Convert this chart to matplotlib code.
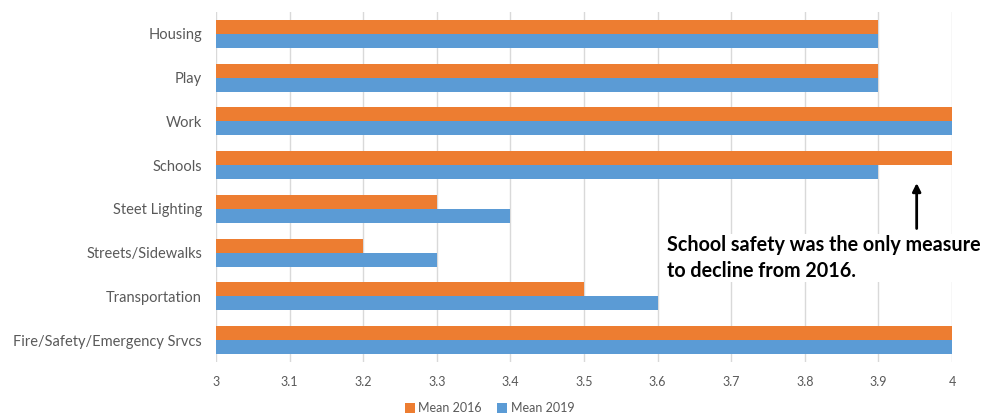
import matplotlib.pyplot as plt
import numpy as np

# Safety perception survey - mean scores by area
categories = ["Housing", "Play", "Work", "Schools", "Steet Lighting",
              "Streets/Sidewalks", "Transportation", "Fire/Safety/Emergency Srvcs"]
mean_2016 = [3.9, 3.9, 4.0, 4.0, 3.3, 3.2, 3.5, 4.0]
mean_2019 = [3.9, 3.9, 4.0, 3.9, 3.4, 3.3, 3.6, 4.0]
x_ticks = [3, 3.1, 3.2, 3.3, 3.4, 3.5, 3.6, 3.7, 3.8, 3.9, 4]
x_tick_labels = ["3", "3.1", "3.2", "3.3", "3.4", "3.5", "3.6", "3.7", "3.8", "3.9", "4"]

plt.rcParams["font.family"] = ["Lato", "DejaVu Sans"]

ORANGE = "#ED7D31"
BLUE = "#5B9BD5"
GREY = "#595959"

fig = plt.figure(figsize=(9.85, 4.15), dpi=100)
ax = fig.add_axes([0.2193, 0.128, 0.7472, 0.843])

y = np.arange(len(categories))
h = 0.32

ax.barh(y - h / 2, np.array(mean_2016) - 3, height=h, left=3, color=ORANGE,
        label="Mean 2016", zorder=3)
ax.barh(y + h / 2, np.array(mean_2019) - 3, height=h, left=3, color=BLUE,
        label="Mean 2019", zorder=3)

ax.set_xlim(3, 4)
ax.set_ylim(len(categories) - 0.5, -0.5)
ax.set_xticks(x_ticks)
ax.set_xticklabels(x_tick_labels, color=GREY, fontsize=9)
ax.set_yticks(y)
ax.set_yticklabels(categories, color=GREY, fontsize=10.5)
ax.tick_params(axis="both", length=0)
ax.tick_params(axis="x", pad=10)
ax.tick_params(axis="y", pad=10)
ax.xaxis.grid(True, color="#D9D9D9", linewidth=1, zorder=0)
for s in ax.spines.values():
    s.set_visible(False)

# callout for the schools decline
ax.annotate("", xy=(3.952, 3.41), xytext=(3.952, 4.45),
            arrowprops=dict(arrowstyle="-|>", color="black", lw=2,
                            mutation_scale=12, shrinkA=0, shrinkB=0),
            zorder=5)
ax.text(3.613, 4.6, "School safety was the only measure\nto decline from 2016.",
        fontsize=14.2, fontweight="bold", color="black", va="top", ha="left",
        linespacing=1.35, zorder=6,
        bbox=dict(facecolor="white", edgecolor="none", pad=1))

fig.legend(loc="lower center", bbox_to_anchor=(0.497, -0.025), ncol=2, frameon=False,
           fontsize=9, handlelength=0.8, handleheight=0.8, handletextpad=0.3,
           columnspacing=1.2, labelcolor=GREY)

fig.savefig("out.png", dpi=100)
